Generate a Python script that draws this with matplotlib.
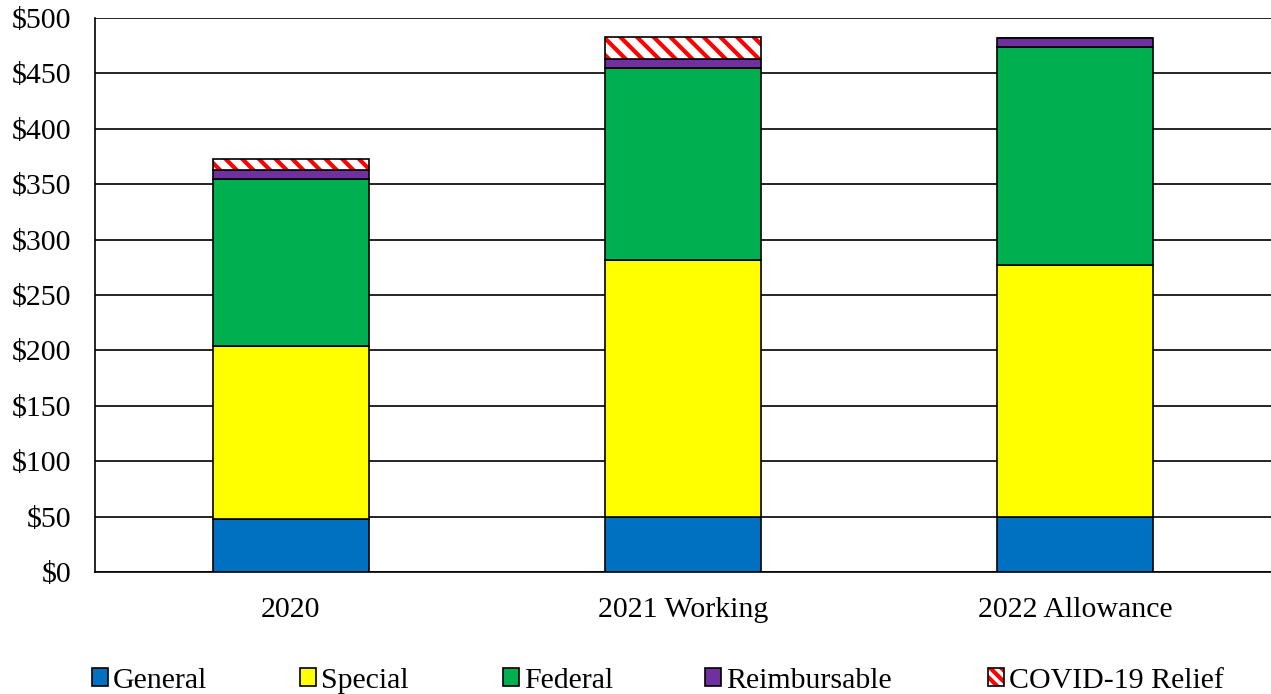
import matplotlib.pyplot as plt
import numpy as np
from matplotlib.patches import Patch

plt.rcParams['font.family'] = ['Liberation Serif', 'DejaVu Serif']
plt.rcParams['hatch.linewidth'] = 3.0

categories = ["2020", "2021 Working", "2022 Allowance"]
general = [48, 49.6, 49.6]
special = [156, 232, 227.5]
federal = [151, 173.3, 196.7]
reimbursable = [8, 8, 8.2]
covid = [10, 20, 0]

series = [
    ("General", general, '#0070C0', None),
    ("Special", special, '#FFFF00', None),
    ("Federal", federal, '#00B050', None),
    ("Reimbursable", reimbursable, '#7030A0', None),
    ("COVID-19 Relief", covid, 'white', '\\\\'),
]
# legend left edges in pixels
legend_x = [92, 300, 503, 705, 988]

fig = plt.figure(figsize=(12.71, 6.94), dpi=100)
ax = fig.add_axes([95 / 1271, 1 - 572 / 694, 1176 / 1271, 554 / 694])

x = np.arange(len(categories))
bottom = np.zeros(len(categories))
handles = []
for name, vals, color, hatch in series:
    vals = np.array(vals, dtype=float)
    if hatch:
        # red hatch layer, then black outline on top
        ax.bar(x, vals, bottom=bottom, width=0.4, color=color, edgecolor='#FF0000',
               linewidth=0, hatch=hatch, zorder=3)
        ax.bar(x, vals, bottom=bottom, width=0.4, fill=False, edgecolor='black',
               linewidth=1.2, zorder=4)
        h = Patch(facecolor=color, edgecolor='#FF0000', hatch='\\\\\\', linewidth=0)
        h2 = Patch(fill=False, edgecolor='black', linewidth=1.2)
        handles.append(((h, h2), name))
    else:
        ax.bar(x, vals, bottom=bottom, width=0.4, color=color, edgecolor='black',
               linewidth=1.2, zorder=3)
        handles.append((Patch(facecolor=color, edgecolor='black', linewidth=1.2), name))
    bottom += vals

ax.set_xlim(-0.5, 2.5)
ax.set_ylim(0, 500)
ax.set_yticks(range(0, 501, 50))
ax.set_yticklabels([f"${v}" for v in range(0, 501, 50)])
ax.set_xticks(x)
ax.set_xticklabels(categories)
ax.tick_params(axis='both', length=0, labelsize=21.5, colors='black')
ax.tick_params(axis='x', pad=18)
ax.tick_params(axis='y', pad=17)
ax.yaxis.grid(True, color='black', linewidth=1.2, zorder=0)
for s in ['top', 'right']:
    ax.spines[s].set_visible(False)
ax.spines['left'].set_linewidth(1.2)
ax.spines['bottom'].set_linewidth(1.2)

for (h, name), lx in zip(handles, legend_x):
    fig.legend(handles=[h], labels=[name], loc='center left',
               bbox_to_anchor=(lx / 1271, 1 - 681 / 694), frameon=False,
               fontsize=21.5, handlelength=0.55, handleheight=0.55,
               handletextpad=0.15, borderpad=0, borderaxespad=0)

fig.savefig("out.png", dpi=100)
